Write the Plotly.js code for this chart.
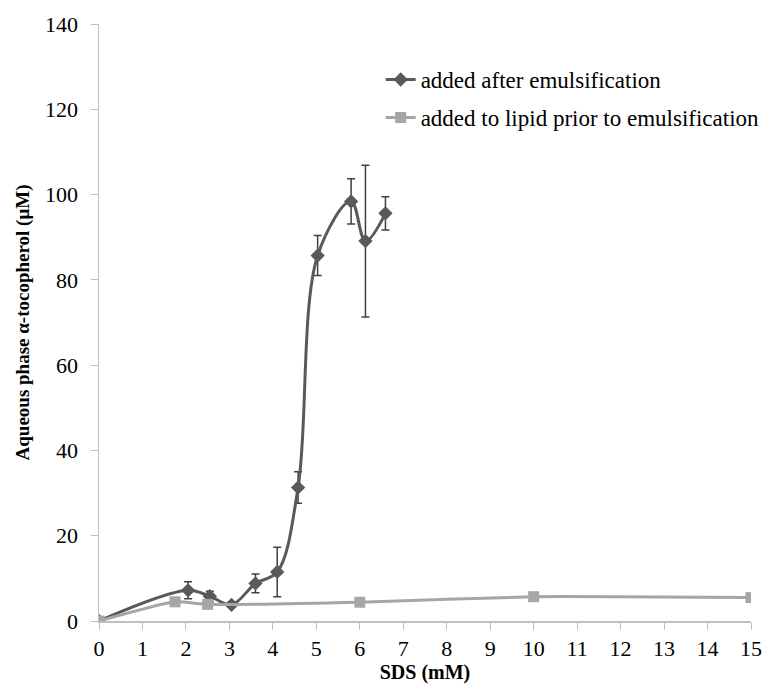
<!DOCTYPE html>
<html>
<head>
<meta charset="utf-8">
<script src="https://cdn.plot.ly/plotly-3.0.1.min.js"></script>
<style>html,body{margin:0;padding:0;background:#fff;}#chart{width:771px;height:693px;}</style>
</head>
<body>
<div id="chart"></div>
<script>
// Series 1: added after emulsification
const sdsAfter = [0, 2.05, 2.55, 3.05, 3.6, 4.1, 4.58, 5.03, 5.8, 6.13, 6.59];
const tocAfter = [0, 7.2, 5.8, 3.8, 8.8, 11.5, 31.3, 85.7, 98.4, 89.1, 95.6];
const errAfter = [0, 2.0, 1.2, 0.6, 2.2, 5.8, 3.7, 4.7, 5.3, 17.8, 3.9];
// Series 2: added to lipid prior to emulsification
const sdsPrior = [0, 1.75, 2.5, 6, 10, 15];
const tocPrior = [0, 4.5, 3.9, 4.4, 5.7, 5.5];

const xTicks = [0,1,2,3,4,5,6,7,8,9,10,11,12,13,14,15];
const yTicks = [0,20,40,60,80,100,120,140];

const font = "Liberation Serif, Times New Roman, serif";

const traces = [
  {
    x: sdsAfter, y: tocAfter, name: 'added after emulsification', legendgroup: 'a',
    type: 'scatter', mode: 'lines+markers',
    line: {color: '#595959', width: 3, shape: 'spline', smoothing: 1},
    marker: {symbol: 'diamond', size: 11, color: '#595959'},
    error_y: {type: 'data', array: errAfter, visible: true, color: '#404040', thickness: 1.5, width: 4}
  },
  {
    x: sdsPrior, y: tocPrior, name: 'added to lipid prior to emulsification', legendgroup: 'b',
    type: 'scatter', mode: 'lines+markers',
    line: {color: '#a6a6a6', width: 3, shape: 'spline', smoothing: 0.5},
    marker: {symbol: 'square', size: 11, color: '#a6a6a6'}
  }
];

const layout = {
  width: 771, height: 693,
  margin: {l: 99, r: 20, t: 24, b: 72, autoexpand: false},
  paper_bgcolor: '#fff', plot_bgcolor: '#fff',
  font: {family: font, color: '#000', size: 20},
  showlegend: true,
  legend: {x: 0.432, y: 0.943, xanchor: 'left', yanchor: 'top',
           font: {family: font, size: 23, color: '#000'},
           bgcolor: 'rgba(0,0,0,0)', tracegroupgap: 5},
  xaxis: {
    range: [0, 15], tickvals: xTicks, ticktext: xTicks.map(String),
    showgrid: false, zeroline: false, showline: true, linecolor: '#bfbfbf', linewidth: 1.5,
    ticks: 'outside', ticklen: 7, tickcolor: '#bfbfbf',
    tickfont: {family: font, size: 22, color: '#000'},
    title: {text: '<b>SDS (mM)</b>', font: {family: font, size: 20, color: '#000'}, standoff: 2}
  },
  yaxis: {
    range: [0, 140], tickvals: yTicks, ticktext: yTicks.map(String),
    showgrid: false, zeroline: false, showline: true, linecolor: '#bfbfbf', linewidth: 1.5,
    ticks: 'outside', ticklen: 7, tickcolor: '#bfbfbf', ticklabelstandoff: 8,
    tickfont: {family: font, size: 22, color: '#000'},
    title: {text: '<b>Aqueous phase α-tocopherol (μM)</b>', font: {family: font, size: 19, color: '#000'}, standoff: 10}
  }
};

Plotly.newPlot('chart', traces, layout, {displayModeBar: false, staticPlot: true});
</script>
</body>
</html>
